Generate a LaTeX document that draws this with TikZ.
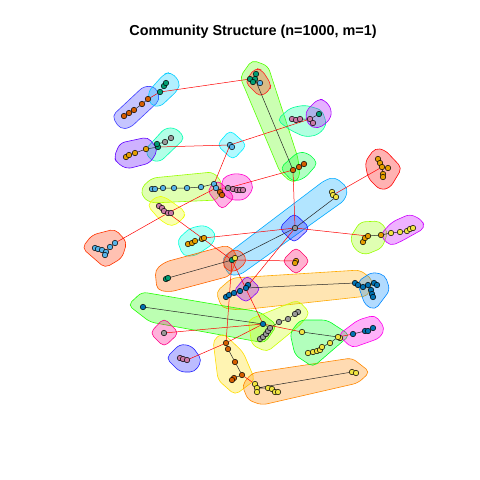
\documentclass[tikz,border=0pt]{standalone}
\usepackage{fontspec}
\setmainfont{Liberation Sans}
\definecolor{cO}{HTML}{E69F00}
\definecolor{cS}{HTML}{56B4E9}
\definecolor{cG}{HTML}{009E73}
\definecolor{cY}{HTML}{F0E442}
\definecolor{cB}{HTML}{0072B2}
\definecolor{cV}{HTML}{D55E00}
\definecolor{cP}{HTML}{CC79A7}
\definecolor{cR}{HTML}{999999}
\definecolor{hA}{HTML}{4040FF}
\definecolor{hB}{HTML}{00CCFF}
\definecolor{hC}{HTML}{55FF00}
\definecolor{hD}{HTML}{FF2020}
\definecolor{hE}{HTML}{00FF40}
\definecolor{hF}{HTML}{00FF99}
\definecolor{hG}{HTML}{AA00FF}
\definecolor{hH}{HTML}{00FFB0}
\definecolor{hI}{HTML}{6000FF}
\definecolor{hJ}{HTML}{00EEFF}
\definecolor{hK}{HTML}{99FF00}
\definecolor{hL}{HTML}{FF00CC}
\definecolor{hM}{HTML}{FF00AA}
\definecolor{hN}{HTML}{EEFF00}
\definecolor{hO}{HTML}{FF3300}
\definecolor{hP}{HTML}{00FFDD}
\definecolor{hQ}{HTML}{00AAFF}
\definecolor{hR}{HTML}{1A1AFF}
\definecolor{hS}{HTML}{FF6600}
\definecolor{hT}{HTML}{FF3000}
\definecolor{hU}{HTML}{FF0066}
\definecolor{hV}{HTML}{99FF00}
\definecolor{hW}{HTML}{CC00FF}
\definecolor{hX}{HTML}{FF0000}
\definecolor{hY}{HTML}{FFAA00}
\definecolor{hZ}{HTML}{0088FF}
\definecolor{ha}{HTML}{8800FF}
\definecolor{hb}{HTML}{22FF00}
\definecolor{hc}{HTML}{CCFF00}
\definecolor{hd}{HTML}{FF0088}
\definecolor{he}{HTML}{2222FF}
\definecolor{hf}{HTML}{FFDD00}
\definecolor{hg}{HTML}{FF8800}
\definecolor{hh}{HTML}{00FF22}
\definecolor{hi}{HTML}{FF00EE}
\pgfdeclarelayer{hl}
\pgfdeclarelayer{ed}
\pgfsetlayers{hl,ed,main}
\tikzset{
  hull/.style={draw=#1, fill=#1, fill opacity=0.3, line width=0.6pt, rounded corners=5pt},
  vtx/.style={circle, draw=black, line width=0.5pt, fill=#1, inner sep=0pt, minimum size=5.5pt},
  inl/.style={draw=black!85, line width=0.5pt},
  crs/.style={draw=red, line width=0.5pt}
}
\newcommand\vx[4]{\node[vtx=#2] (#1) at (#3,#4) {};}
\begin{document}
\begin{tikzpicture}[x=1pt,y=-1pt]
\useasboundingbox (0,0) rectangle (480,480);
\begin{pgfonlayer}{hl}
\fill[white] (0,0) rectangle (480,480);
\draw[hull=hA] (112,116)--(144,86)--(156,87)--(160,100)--(130,128)--(120,129)--cycle;
\draw[hull=hB] (148,92)--(164,74)--(171,72)--(180,82)--(178,90)--(160,107)--(150,105)--cycle;
\draw[hull=hC] (240,77)--(252,60)--(268,66)--(298,158)--(300,178)--(292,183)--(280,172)--cycle;
\draw[hull=hD] (245,82)--(255,68)--(262,70)--(271,84)--(270,90)--(260,97)--cycle;
\draw[hull=hE] (280,168)--(298,152)--(308,153)--(318,163)--(305,178)--(293,182)--cycle;
\draw[hull=hF] (277,120)--(290,108)--(305,105)--(322,110)--(327,125)--(318,135)--(305,137)--(290,130)--cycle;
\draw[hull=hG] (305,112)--(318,99)--(325,100)--(332,110)--(330,120)--(318,129)--(308,125)--cycle;
\draw[hull=hH] (145,150)--(165,128)--(176,128)--(185,138)--(160,162)--(150,160)--cycle;
\draw[hull=hI] (114,157)--(120,143)--(148,137)--(158,150)--(150,163)--(127,169)--(117,163)--cycle;
\draw[hull=hJ] (217,145)--(230,130)--(247,145)--(233,160)--cycle;
\draw[hull=hK] (141,188)--(152,178)--(213,172)--(222,182)--(218,200)--(152,203)--(143,198)--cycle;
\draw[hull=hL] (222,178)--(235,173)--(248,176)--(254,188)--(245,200)--(230,200)--(222,192)--cycle;
\draw[hull=hM] (207,190)--(218,180)--(235,197)--(222,210)--cycle;
\draw[hull=hN] (147,205)--(157,196)--(165,197)--(186,212)--(183,219)--(172,227)--(160,220)--cycle;
\draw[hull=hO] (82,248)--(92,235)--(115,229)--(127,242)--(122,258)--(105,268)--cycle;
\draw[hull=hP] (177,240)--(190,228)--(205,225)--(216,233)--(213,244)--(195,256)--(183,256)--cycle;
\draw[hull=hQ] (222,258)--(325,180)--(335,177)--(348,188)--(345,200)--(240,275)--(228,275)--cycle;
\draw[hull=hR] (279,228)--(294,213)--(310,228)--(294,243)--cycle;
\draw[hull=hS] (155,270)--(165,262)--(228,245)--(238,256)--(230,276)--(170,292)--(157,290)--cycle;
\draw[hull=hT] (222,262)--(232,249)--(243,252)--(247,262)--(235,272)--(226,270)--cycle;
\draw[hull=hU] (282,261)--(296,247)--(310,261)--(296,275)--cycle;
\draw[hull=hV] (350,238)--(360,222)--(380,221)--(388,232)--(382,248)--(365,255)--(355,250)--cycle;
\draw[hull=hW] (380,235)--(392,222)--(410,214)--(422,220)--(425,228)--(400,242)--(390,246)--cycle;
\draw[hull=hX] (365,162)--(375,148)--(385,150)--(402,168)--(390,188)--(380,190)--(368,178)--cycle;
\draw[hull=hY] (216,292)--(232,278)--(360,270)--(373,280)--(368,296)--(240,310)--(222,308)--cycle;
\draw[hull=hZ] (357,282)--(372,272)--(385,275)--(390,290)--(375,310)--(365,305)--cycle;
\draw[hull=ha] (233,292)--(247,275)--(261,289)--(246,303)--cycle;
\draw[hull=hb] (128,305)--(142,292)--(260,312)--(277,325)--(265,343)--(150,322)--cycle;
\draw[hull=hc] (248,320)--(298,300)--(310,313)--(300,325)--(267,352)--(252,345)--cycle;
\draw[hull=hd] (150,333)--(164,318)--(179,333)--(164,347)--cycle;
\draw[hull=he] (166,358)--(180,344)--(192,346)--(202,360)--(195,372)--(180,372)--cycle;
\draw[hull=hf] (213,340)--(223,333)--(243,352)--(255,380)--(235,395)--(218,380)--cycle;
\draw[hull=hg] (242,385)--(252,373)--(352,358)--(370,372)--(358,383)--(262,405)--(248,400)--cycle;
\draw[hull=hh] (290,333)--(300,320)--(327,320)--(350,335)--(313,367)--(295,355)--cycle;
\draw[hull=hi] (338,335)--(358,320)--(375,315)--(385,328)--(380,338)--(352,348)--cycle;
\end{pgfonlayer}
\node[font=\bfseries\fontsize{14.4}{16}\selectfont, anchor=base] (title) at (253,35) {Community Structure (n=1000, m=1)};
% vertices
\vx{a1}{cV}{124}{116}\vx{a2}{cV}{129}{113}\vx{a3}{cV}{134}{110}\vx{a4}{cV}{142}{104}\vx{a5}{cV}{148}{99}
\vx{b1}{cG}{160}{92}\vx{b2}{cG}{164}{86}\vx{b3}{cG}{166}{83}
\vx{c1}{cG}{255}{79}\vx{c2}{cG}{256}{74}\vx{c3}{cG}{250}{79}\vx{c4}{cG}{253}{82}\vx{c5}{cS}{260}{83}
\vx{d1}{cV}{293}{170}\vx{d2}{cV}{299}{167}\vx{d3}{cV}{304}{164}
\vx{e1}{cP}{292}{119}\vx{e2}{cP}{296}{120}\vx{e3}{cP}{300}{119}\vx{e4}{cP}{310}{119}\vx{e5}{cP}{313}{123}\vx{e6}{cG}{319}{114}
\vx{f1}{cS}{230}{145}\vx{f2}{cS}{232}{147}
\vx{g1}{cO}{126}{157}\vx{g2}{cO}{129}{155}\vx{g3}{cO}{135}{153}\vx{g4}{cO}{146}{149}\vx{g5}{cG}{158}{147}\vx{g6}{cG}{157}{144}\vx{g7}{cR}{165}{142}\vx{g8}{cR}{171}{138}
\vx{h1}{cS}{152}{189}\vx{h2}{cS}{155}{189}\vx{h3}{cS}{163}{188}\vx{h4}{cS}{174}{188}\vx{h5}{cS}{187}{188}\vx{h6}{cS}{201}{187}\vx{h7}{cS}{214}{184}\vx{h8}{cS}{216}{188}
\vx{i1}{cV}{220}{192}\vx{i2}{cV}{222}{195}
\vx{j1}{cR}{228}{188}\vx{j2}{cP}{233}{189}\vx{j3}{cP}{237}{190}\vx{j4}{cP}{240}{190}\vx{j5}{cP}{243}{190}
\vx{k1}{cP}{159}{206}\vx{k2}{cP}{162}{208}\vx{k3}{cP}{164}{211}\vx{k4}{cP}{168}{213}\vx{k5}{cP}{171}{213}
\vx{l1}{cS}{95}{248}\vx{l2}{cS}{98}{249}\vx{l3}{cS}{102}{250}\vx{l4}{cS}{106}{252}\vx{l5}{cS}{105}{255}\vx{l6}{cS}{110}{247}\vx{l7}{cS}{115}{243}
\vx{m1}{cO}{188}{244}\vx{m2}{cO}{192}{243}\vx{m3}{cO}{195}{241}\vx{m4}{cO}{202}{239}\vx{m5}{cO}{204}{238}
\vx{o2}{cG}{166}{279}\vx{o1}{cG}{168}{278}
\vx{p1}{cY}{332}{192}\vx{p2}{cY}{333}{195}\vx{p3}{cY}{336}{197}
\vx{q1}{cR}{295}{228}
\vx{r2}{cO}{363}{242}\vx{r3}{cO}{365}{238}\vx{r1}{cO}{368}{236}\vx{r4}{cO}{381}{235}\vx{r5}{cY}{391}{233}\vx{r6}{cY}{400}{232}\vx{r7}{cY}{407}{231}\vx{r8}{cY}{410}{229}\vx{r9}{cY}{413}{228}
\vx{t1}{cO}{378}{159}\vx{t2}{cO}{380}{163}\vx{t3}{cO}{382}{167}\vx{t4}{cO}{388}{168}\vx{t5}{cO}{383}{174}\vx{t6}{cO}{383}{177}
\vx{u1}{cO}{296}{261}\vx{u2}{cO}{295}{263}
\vx{s6}{cB}{226}{297}\vx{s5}{cB}{229}{295}\vx{s4}{cB}{234}{293}\vx{s3}{cB}{240}{291}\vx{s2}{cB}{248}{285}\vx{s1}{cB}{246}{288}
\vx{w1}{cB}{355}{283}\vx{w2}{cB}{358}{285}\vx{w3}{cB}{363}{287}\vx{w4}{cB}{368}{285}\vx{w5}{cB}{374}{283}\vx{w6}{cB}{377}{285}\vx{w7}{cB}{371}{290}\vx{w8}{cB}{372}{294}\vx{w9}{cB}{373}{297}
\vx{x1}{cB}{143}{307}
\vx{y10}{cR}{298}{312}\vx{y9}{cR}{295}{314}\vx{y8}{cR}{288}{319}\vx{y7}{cR}{279}{322}\vx{y6}{cR}{260}{339}\vx{y5}{cR}{263}{337}\vx{y4}{cR}{266}{334}\vx{y3}{cR}{268}{331}\vx{y2}{cR}{270}{328}\vx{y1}{cB}{263}{324}
\vx{z9}{cY}{308}{353}\vx{z8}{cY}{313}{352}\vx{z7}{cY}{317}{351}\vx{z6}{cY}{320}{350}\vx{z5}{cY}{322}{347}\vx{z4}{cY}{330}{343}\vx{z3}{cY}{340}{338}\vx{z2}{cY}{338}{337}\vx{z1}{cY}{302}{332}
\vx{ab1}{cB}{353}{334}\vx{ab2}{cB}{365}{331}\vx{ab3}{cB}{368}{331}\vx{ab4}{cB}{373}{328}
\vx{aa1}{cR}{164}{333}
\vx{bb1}{cP}{180}{358}\vx{bb2}{cP}{183}{359}\vx{bb3}{cP}{187}{360}
\vx{cc1}{cV}{226}{343}\vx{cc2}{cV}{228}{349}\vx{cc3}{cV}{235}{362}\vx{cc4}{cV}{242}{375}\vx{cc5}{cV}{234}{378}\vx{cc6}{cV}{232}{380}
\vx{dd1}{cY}{255}{384}\vx{dd2}{cY}{257}{388}\vx{dd3}{cY}{257}{392}\vx{dd4}{cY}{268}{388}\vx{dd5}{cY}{272}{389}\vx{dd6}{cY}{275}{392}\vx{dd7}{cY}{278}{392}\vx{dd8}{cY}{352}{372}\vx{dd9}{cY}{356}{373}
\vx{n1}{cG}{232}{260}\vx{n2}{cY}{235}{258}
% edges
\begin{pgfonlayer}{ed}
\draw[inl] (a1)--(a2)--(a3)--(a4)--(a5);
\draw[inl] (b1)--(b2)--(b3);
\draw[inl] (c3)--(c1)--(c2) (c4)--(c1)--(c5);
\draw[inl] (c1)--(d1) (d1)--(d2)--(d3);
\draw[inl] (e1)--(e2)--(e3)--(e4)--(e5) (e4)--(e6);
\draw[inl] (f1)--(f2);
\draw[inl] (g1)--(g2)--(g3)--(g4)--(g5)--(g6)--(g7)--(g8);
\draw[inl] (h1)--(h2)--(h3)--(h4)--(h5)--(h6)--(h7)--(h8);
\draw[inl] (i1)--(i2);
\draw[inl] (j1)--(j2)--(j3)--(j4)--(j5);
\draw[inl] (k1)--(k2)--(k3)--(k4)--(k5);
\draw[inl] (l1)--(l2)--(l3)--(l4)--(l5) (l4)--(l6)--(l7);
\draw[inl] (m1)--(m2)--(m3)--(m4)--(m5);
\draw[inl] (o2)--(o1)--(n1)--(n2) (n1)--(q1)--(p3)--(p2)--(p1);
\draw[inl] (r2)--(r3)--(r1)--(r4)--(r5)--(r6)--(r7)--(r8)--(r9);
\draw[inl] (t1)--(t2)--(t3)--(t4) (t3)--(t5)--(t6);
\draw[inl] (u1)--(u2);
\draw[inl] (s6)--(s5)--(s4)--(s3)--(s1)--(s2) (s1)--(w1);
\draw[inl] (w1)--(w2)--(w3)--(w4)--(w5)--(w6) (w4)--(w7)--(w8)--(w9);
\draw[inl] (x1)--(y1)--(y2)--(y3)--(y4)--(y5)--(y6) (y2)--(y7)--(y8)--(y9)--(y10);
\draw[inl] (z1)--(z2)--(z3) (z2)--(z4)--(z5)--(z6)--(z7)--(z8)--(z9);
\draw[inl] (ab1)--(ab2)--(ab3)--(ab4);
\draw[inl] (bb1)--(bb2)--(bb3);
\draw[inl] (cc1)--(cc2)--(cc3)--(cc4)--(cc5)--(cc6);
\draw[inl] (dd1)--(dd2)--(dd3) (dd2)--(dd4)--(dd5)--(dd6)--(dd7) (dd2)--(dd8)--(dd9);
% between communities
\draw[crs] (a5)--(b1);
\draw[crs] (b1)--(c3);
\draw[crs] (g5)--(f1) (f1)--(e4) (f1)--(h7);
\draw[crs] (h8)--(i1) (h8)--(j1) (j1)--(d1) (d1)--(q1);
\draw[crs] (h8)--(k4) (k4)--(l7) (k4)--(n1);
\draw[crs] (m5)--(q1) (q1)--(r1) (q1)--(s1) (n1)--(u1) (t3)--(p2);
\draw[crs] (n1)--(cc1) (n1)--(y1);
\draw[crs] (aa1)--(y1) (bb3)--(cc1) (cc1)--(y1) (y1)--(z1) (z2)--(ab1) (cc4)--(dd1);
\end{pgfonlayer}
\end{tikzpicture}
\end{document}
